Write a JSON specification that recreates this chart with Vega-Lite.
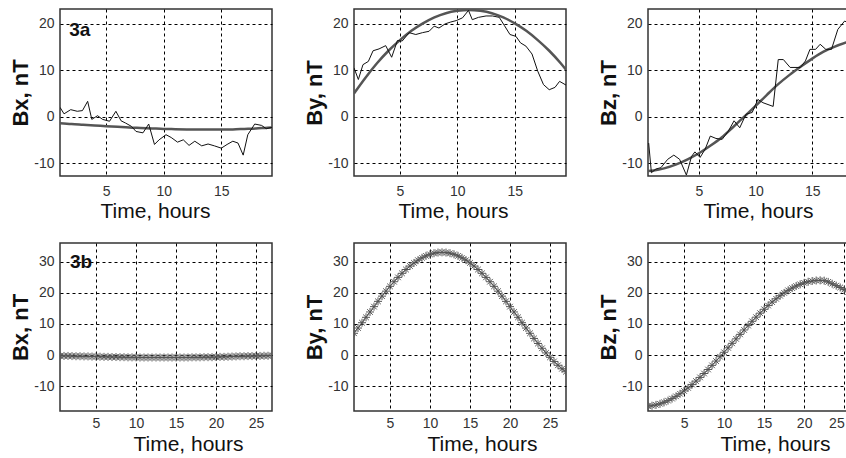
{
  "$schema": "https://vega.github.io/schema/vega-lite/v6.json",
  "padding": {"left": 8, "top": 8, "right": 0, "bottom": 0},
  "background": "white",
  "config": {
    "view": {"stroke": "#333", "strokeWidth": 1.5},
    "axis": {"grid": true, "gridColor": "#000", "gridDash": [3, 3], "gridOpacity": 1, "gridWidth": 1, "domain": false, "ticks": false, "labelFont": "Liberation Sans", "labelFontSize": 14, "labelColor": "#333", "titleFont": "Liberation Sans", "titleColor": "#111"},
    "axisX": {"titleFontSize": 21, "titleFontWeight": "normal", "titlePadding": 3},
    "axisY": {"labelPadding": 6, "titleFontSize": 22, "titleFontWeight": "bold", "titlePadding": 4, "minExtent": 24, "maxExtent": 24}
  },
  "datasets": {
    "aBxObs": [{"t":1.0,"v":2.0},{"t":1.35,"v":0.6},{"t":1.93,"v":1.5},{"t":2.5,"v":1.15},{"t":2.95,"v":1.3},{"t":3.4,"v":3.3},{"t":3.76,"v":-0.6},{"t":4.26,"v":0.2},{"t":4.7,"v":-0.6},{"t":5.3,"v":-1.0},{"t":5.85,"v":1.15},{"t":6.3,"v":-0.9},{"t":6.7,"v":-1.4},{"t":7.2,"v":-2.1},{"t":7.6,"v":-3.2},{"t":8.2,"v":-3.5},{"t":8.7,"v":-1.6},{"t":9.2,"v":-6.0},{"t":9.6,"v":-5.0},{"t":10.2,"v":-3.9},{"t":10.65,"v":-4.5},{"t":11.2,"v":-5.5},{"t":11.7,"v":-5.0},{"t":12.2,"v":-6.2},{"t":12.7,"v":-5.3},{"t":13.3,"v":-6.3},{"t":13.85,"v":-5.9},{"t":14.4,"v":-6.3},{"t":15.0,"v":-6.8},{"t":15.5,"v":-6.0},{"t":16.0,"v":-5.3},{"t":16.45,"v":-5.7},{"t":16.9,"v":-8.3},{"t":17.3,"v":-3.9},{"t":17.9,"v":-1.6},{"t":18.5,"v":-1.9},{"t":18.9,"v":-2.6},{"t":19.4,"v":-2.3}],
    "aBxFit": [{"t":1,"v":-1.4},{"t":2,"v":-1.6},{"t":3,"v":-1.75},{"t":4,"v":-1.9},{"t":5,"v":-2.05},{"t":6,"v":-2.2},{"t":7,"v":-2.35},{"t":8,"v":-2.45},{"t":9,"v":-2.55},{"t":10,"v":-2.65},{"t":11,"v":-2.7},{"t":12,"v":-2.75},{"t":13,"v":-2.8},{"t":14,"v":-2.8},{"t":15,"v":-2.8},{"t":16,"v":-2.75},{"t":17,"v":-2.65},{"t":18,"v":-2.55},{"t":19,"v":-2.4},{"t":19.4,"v":-2.35}],
    "aByObs": [{"t":1.0,"v":10.5},{"t":1.38,"v":8.0},{"t":1.78,"v":11.2},{"t":2.25,"v":11.9},{"t":2.66,"v":14.2},{"t":3.18,"v":14.6},{"t":3.76,"v":15.3},{"t":4.28,"v":12.8},{"t":4.78,"v":16.4},{"t":5.2,"v":16.3},{"t":5.8,"v":18.1},{"t":6.38,"v":17.7},{"t":6.96,"v":18.1},{"t":7.54,"v":18.4},{"t":7.98,"v":19.5},{"t":8.4,"v":19.1},{"t":8.94,"v":20.0},{"t":9.43,"v":20.4},{"t":9.9,"v":20.7},{"t":10.45,"v":21.3},{"t":10.97,"v":22.9},{"t":11.3,"v":20.9},{"t":11.84,"v":21.4},{"t":12.5,"v":21.7},{"t":13.06,"v":21.7},{"t":13.65,"v":21.4},{"t":14.08,"v":19.7},{"t":14.58,"v":17.7},{"t":15.1,"v":17.3},{"t":15.5,"v":15.9},{"t":15.97,"v":15.2},{"t":16.5,"v":13.5},{"t":17.0,"v":9.8},{"t":17.5,"v":6.9},{"t":18.0,"v":5.8},{"t":18.5,"v":6.3},{"t":18.9,"v":7.6},{"t":19.46,"v":6.8}],
    "aByFit": [{"t":1,"v":5.0},{"t":2,"v":8.4},{"t":3,"v":11.5},{"t":4,"v":14.2},{"t":5,"v":16.5},{"t":6,"v":18.5},{"t":7,"v":20.1},{"t":8,"v":21.4},{"t":9,"v":22.3},{"t":10,"v":22.8},{"t":11,"v":23.0},{"t":12,"v":22.8},{"t":13,"v":22.3},{"t":14,"v":21.4},{"t":15,"v":20.1},{"t":16,"v":18.5},{"t":17,"v":16.5},{"t":18,"v":14.2},{"t":19,"v":11.5},{"t":19.46,"v":10.1}],
    "aBzObs": [{"t":0.56,"v":-5.7},{"t":0.8,"v":-12.1},{"t":1.19,"v":-11.3},{"t":1.64,"v":-11.0},{"t":2.24,"v":-9.2},{"t":2.78,"v":-8.3},{"t":3.29,"v":-9.2},{"t":3.89,"v":-12.6},{"t":4.34,"v":-8.6},{"t":4.64,"v":-7.6},{"t":5.1,"v":-8.8},{"t":5.55,"v":-7.0},{"t":6.0,"v":-4.2},{"t":6.5,"v":-4.7},{"t":7.05,"v":-4.9},{"t":7.6,"v":-3.1},{"t":8.1,"v":-0.9},{"t":8.6,"v":-2.4},{"t":9.15,"v":0.5},{"t":9.7,"v":0.9},{"t":10.2,"v":3.7},{"t":10.65,"v":3.0},{"t":11.55,"v":2.2},{"t":12.0,"v":12.3},{"t":12.45,"v":12.3},{"t":13.05,"v":10.6},{"t":13.95,"v":10.6},{"t":14.4,"v":12.0},{"t":14.8,"v":14.5},{"t":15.3,"v":14.5},{"t":15.7,"v":15.6},{"t":16.2,"v":14.5},{"t":16.7,"v":14.5},{"t":17.26,"v":18.8},{"t":17.86,"v":20.6},{"t":18.46,"v":19.9},{"t":19.0,"v":19.7}],
    "aBzFit": [{"t":0.5,"v":-11.7},{"t":1,"v":-11.6},{"t":2,"v":-11.1},{"t":3,"v":-10.3},{"t":4,"v":-9.2},{"t":5,"v":-7.9},{"t":6,"v":-6.3},{"t":7,"v":-4.5},{"t":8,"v":-2.3},{"t":9,"v":0.0},{"t":10,"v":2.3},{"t":11,"v":4.7},{"t":12,"v":7.0},{"t":13,"v":9.0},{"t":14,"v":10.8},{"t":15,"v":12.5},{"t":16,"v":14.0},{"t":17,"v":15.1},{"t":18,"v":16.0},{"t":19,"v":16.8}],
    "bBx": [{"t":0.5,"v":-0.3},{"t":1,"v":-0.3},{"t":1.5,"v":-0.3},{"t":2,"v":-0.35},{"t":2.5,"v":-0.4},{"t":3,"v":-0.4},{"t":3.5,"v":-0.45},{"t":4,"v":-0.45},{"t":4.5,"v":-0.5},{"t":5,"v":-0.5},{"t":5.5,"v":-0.55},{"t":6,"v":-0.6},{"t":6.5,"v":-0.6},{"t":7,"v":-0.65},{"t":7.5,"v":-0.65},{"t":8,"v":-0.7},{"t":8.5,"v":-0.7},{"t":9,"v":-0.75},{"t":9.5,"v":-0.75},{"t":10,"v":-0.75},{"t":10.5,"v":-0.8},{"t":11,"v":-0.8},{"t":11.5,"v":-0.8},{"t":12,"v":-0.8},{"t":12.5,"v":-0.8},{"t":13,"v":-0.8},{"t":13.5,"v":-0.8},{"t":14,"v":-0.8},{"t":14.5,"v":-0.8},{"t":15,"v":-0.8},{"t":15.5,"v":-0.8},{"t":16,"v":-0.8},{"t":16.5,"v":-0.8},{"t":17,"v":-0.75},{"t":17.5,"v":-0.75},{"t":18,"v":-0.75},{"t":18.5,"v":-0.7},{"t":19,"v":-0.7},{"t":19.5,"v":-0.7},{"t":20,"v":-0.65},{"t":20.5,"v":-0.6},{"t":21,"v":-0.6},{"t":21.5,"v":-0.55},{"t":22,"v":-0.5},{"t":22.5,"v":-0.45},{"t":23,"v":-0.4},{"t":23.5,"v":-0.4},{"t":24,"v":-0.35},{"t":24.5,"v":-0.35},{"t":25,"v":-0.3},{"t":25.5,"v":-0.3},{"t":26,"v":-0.25},{"t":26.5,"v":-0.25},{"t":27,"v":-0.2}],
    "bBy": [{"t":0.5,"v":6.98},{"t":1,"v":8.67},{"t":1.5,"v":10.38},{"t":2,"v":12.11},{"t":2.5,"v":13.83},{"t":3,"v":15.54},{"t":3.5,"v":17.24},{"t":4,"v":18.92},{"t":4.5,"v":20.52},{"t":5,"v":22.07},{"t":5.5,"v":23.55},{"t":6,"v":24.95},{"t":6.5,"v":26.26},{"t":7,"v":27.48},{"t":7.5,"v":28.59},{"t":8,"v":29.6},{"t":8.5,"v":30.48},{"t":9,"v":31.24},{"t":9.5,"v":31.87},{"t":10,"v":32.36},{"t":10.5,"v":32.72},{"t":11,"v":32.93},{"t":11.5,"v":33.0},{"t":12,"v":32.93},{"t":12.5,"v":32.72},{"t":13,"v":32.36},{"t":13.5,"v":31.87},{"t":14,"v":31.24},{"t":14.5,"v":30.48},{"t":15,"v":29.6},{"t":15.5,"v":28.59},{"t":16,"v":27.48},{"t":16.5,"v":26.26},{"t":17,"v":24.95},{"t":17.5,"v":23.55},{"t":18,"v":22.07},{"t":18.5,"v":20.52},{"t":19,"v":18.92},{"t":19.5,"v":17.24},{"t":20,"v":15.54},{"t":20.5,"v":13.83},{"t":21,"v":12.11},{"t":21.5,"v":10.38},{"t":22,"v":8.67},{"t":22.5,"v":6.98},{"t":23,"v":5.32},{"t":23.5,"v":3.71},{"t":24,"v":2.16},{"t":24.5,"v":0.67},{"t":25,"v":-0.74},{"t":25.5,"v":-2.07},{"t":26,"v":-3.3},{"t":26.5,"v":-4.42},{"t":27,"v":-5.37}],
    "bBz": [{"t":0.5,"v":-16.45},{"t":1,"v":-16.29},{"t":1.5,"v":-16.04},{"t":2,"v":-15.68},{"t":2.5,"v":-15.22},{"t":3,"v":-14.67},{"t":3.5,"v":-14.02},{"t":4,"v":-13.29},{"t":4.5,"v":-12.46},{"t":5,"v":-11.55},{"t":5.5,"v":-10.57},{"t":6,"v":-9.51},{"t":6.5,"v":-8.39},{"t":7,"v":-7.2},{"t":7.5,"v":-5.95},{"t":8,"v":-4.66},{"t":8.5,"v":-3.33},{"t":9,"v":-1.95},{"t":9.5,"v":-0.55},{"t":10,"v":0.87},{"t":10.5,"v":2.31},{"t":11,"v":3.75},{"t":11.5,"v":5.19},{"t":12,"v":6.63},{"t":12.5,"v":8.05},{"t":13,"v":9.45},{"t":13.5,"v":10.83},{"t":14,"v":12.16},{"t":14.5,"v":13.45},{"t":15,"v":14.7},{"t":15.5,"v":15.89},{"t":16,"v":17.01},{"t":16.5,"v":18.07},{"t":17,"v":19.05},{"t":17.5,"v":19.96},{"t":18,"v":20.79},{"t":18.5,"v":21.52},{"t":19,"v":22.17},{"t":19.5,"v":22.72},{"t":20,"v":23.18},{"t":20.5,"v":23.54},{"t":21,"v":23.79},{"t":21.5,"v":23.95},{"t":22,"v":24.0},{"t":22.5,"v":23.9},{"t":23,"v":23.5},{"t":23.5,"v":22.9},{"t":24,"v":22.3},{"t":24.5,"v":21.7},{"t":25,"v":21.0},{"t":25.5,"v":20.3},{"t":26,"v":19.6}],
    "lab": [{"label":"3a","t":1.8,"v":17.4},{"label":"3b","t":1.75,"v":28.0}]
  },
  "vconcat": [
    {
      "spacing": 29,
      "hconcat": [
        {
          "width": 212, "height": 167,
          "encoding": {
            "x": {"field":"t","type":"quantitative","scale":{"domain":[1,19.4],"nice":false,"zero":false},"axis":{"values":[5,10,15],"title":"Time, hours","titleX":95,"labelPadding":8,"titlePadding":2}},
            "y": {"field":"v","type":"quantitative","scale":{"domain":[-12.8,23.2],"nice":false,"zero":false},"axis":{"values":[-10,0,10,20],"title":"Bx, nT","labelExpr":"'' + datum.value"}}
          },
          "layer": [
            {"data":{"name":"aBxFit"},"mark":{"type":"line","color":"#555","strokeWidth":2.5,"interpolate":"monotone","clip":true}},
            {"data":{"name":"aBxObs"},"mark":{"type":"line","color":"#111","strokeWidth":1,"clip":true}},
            {"data":{"name":"lab"},"transform":[{"filter":"datum.label == '3a'"}],"mark":{"type":"text","font":"Liberation Sans","fontWeight":"bold","fontSize":19,"align":"left","baseline":"alphabetic","color":"#111"},"encoding":{"text":{"field":"label"}}}
          ]
        },
        {
          "width": 212, "height": 167,
          "encoding": {
            "x": {"field":"t","type":"quantitative","scale":{"domain":[1,19.46],"nice":false,"zero":false},"axis":{"values":[5,10,15],"title":"Time, hours","titleX":99,"labelPadding":8,"titlePadding":2}},
            "y": {"field":"v","type":"quantitative","scale":{"domain":[-12.8,23.2],"nice":false,"zero":false},"axis":{"values":[-10,0,10,20],"title":"By, nT","labelExpr":"'' + datum.value"}}
          },
          "layer": [
            {"data":{"name":"aByFit"},"mark":{"type":"line","color":"#555","strokeWidth":2.5,"interpolate":"monotone","clip":true}},
            {"data":{"name":"aByObs"},"mark":{"type":"line","color":"#111","strokeWidth":1,"clip":true}}
          ]
        },
        {
          "width": 205, "height": 167,
          "encoding": {
            "x": {"field":"t","type":"quantitative","scale":{"domain":[0.5,18.6],"nice":false,"zero":false},"axis":{"values":[5,10,15],"title":"Time, hours","titleX":110,"labelPadding":8,"titlePadding":2}},
            "y": {"field":"v","type":"quantitative","scale":{"domain":[-12.8,23.2],"nice":false,"zero":false},"axis":{"values":[-10,0,10,20],"title":"Bz, nT","labelExpr":"'' + datum.value"}}
          },
          "layer": [
            {"data":{"name":"aBzFit"},"mark":{"type":"line","color":"#555","strokeWidth":2.5,"interpolate":"monotone","clip":true}},
            {"data":{"name":"aBzObs"},"mark":{"type":"line","color":"#111","strokeWidth":1,"clip":true}}
          ]
        }
      ]
    },
    {
      "spacing": 29,
      "hconcat": [
        {
          "width": 212, "height": 168,
          "encoding": {
            "x": {"field":"t","type":"quantitative","scale":{"domain":[0.5,27],"nice":false,"zero":false},"axis":{"values":[5,10,15,20,25],"title":"Time, hours","titleX":128,"labelPadding":5}},
            "y": {"field":"v","type":"quantitative","scale":{"domain":[-18,36],"nice":false,"zero":false},"axis":{"values":[-10,0,10,20,30],"title":"Bx, nT","labelExpr":"'' + datum.value"}}
          },
          "layer": [
            {"data":{"name":"bBx"},"mark":{"type":"line","color":"#666","strokeWidth":1,"clip":true}},
            {"data":{"name":"bBx"},"mark":{"type":"point","shape":"M-1,0H1M0,-1V1M-0.7,-0.7L0.7,0.7M-0.7,0.7L0.7,-0.7","filled":false,"color":"#555","size":64,"strokeWidth":1,"opacity":1,"clip":true}},
            {"data":{"name":"lab"},"transform":[{"filter":"datum.label == '3b'"}],"mark":{"type":"text","font":"Liberation Sans","fontWeight":"bold","fontSize":19,"align":"left","baseline":"alphabetic","color":"#111"},"encoding":{"text":{"field":"label"}}}
          ]
        },
        {
          "width": 212, "height": 168,
          "encoding": {
            "x": {"field":"t","type":"quantitative","scale":{"domain":[0.5,27],"nice":false,"zero":false},"axis":{"values":[5,10,15,20,25],"title":"Time, hours","titleX":128,"labelPadding":5}},
            "y": {"field":"v","type":"quantitative","scale":{"domain":[-18,36],"nice":false,"zero":false},"axis":{"values":[-10,0,10,20,30],"title":"By, nT","labelExpr":"'' + datum.value"}}
          },
          "layer": [
            {"data":{"name":"bBy"},"mark":{"type":"line","color":"#666","strokeWidth":1,"clip":true}},
            {"data":{"name":"bBy"},"mark":{"type":"point","shape":"M-1,0H1M0,-1V1M-0.7,-0.7L0.7,0.7M-0.7,0.7L0.7,-0.7","filled":false,"color":"#555","size":64,"strokeWidth":1,"opacity":1,"clip":true}}
          ]
        },
        {
          "width": 205, "height": 168,
          "encoding": {
            "x": {"field":"t","type":"quantitative","scale":{"domain":[0.5,26.1],"nice":false,"zero":false},"axis":{"values":[5,10,15,20,25],"title":"Time, hours","titleX":127,"labelPadding":5,"labelFlush":12}},
            "y": {"field":"v","type":"quantitative","scale":{"domain":[-18,36],"nice":false,"zero":false},"axis":{"values":[-10,0,10,20,30],"title":"Bz, nT","labelExpr":"'' + datum.value"}}
          },
          "layer": [
            {"data":{"name":"bBz"},"mark":{"type":"line","color":"#666","strokeWidth":1,"clip":true}},
            {"data":{"name":"bBz"},"mark":{"type":"point","shape":"M-1,0H1M0,-1V1M-0.7,-0.7L0.7,0.7M-0.7,0.7L0.7,-0.7","filled":false,"color":"#555","size":64,"strokeWidth":1,"opacity":1,"clip":true}}
          ]
        }
      ]
    }
  ],
  "spacing": 20
}
